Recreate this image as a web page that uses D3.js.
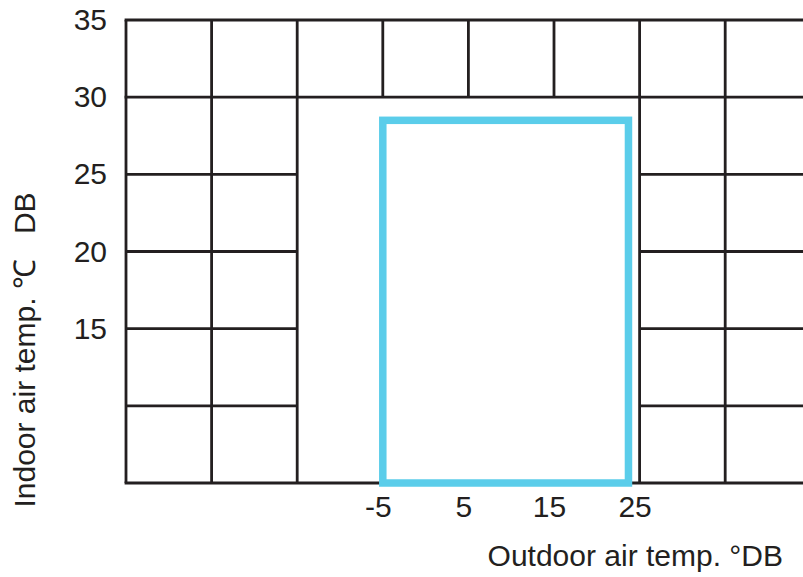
<!DOCTYPE html>
<html>
<head>
<meta charset="utf-8">
<script src="https://cdn.jsdelivr.net/npm/d3@7"></script>
<style>
  body { margin: 0; background: #fff; }
  svg { display: block; }
  text { font-family: "Liberation Sans", Arial, Helvetica, sans-serif; fill: #231f20; white-space: pre; }
</style>
</head>
<body>
<svg id="chart" width="803" height="577"></svg>
<script>
// tick labels shown on the axes
const xTickValues = [-5, 5, 15, 25];
const yTickValues = [15, 20, 25, 30, 35];

// grid: vertical lines that run full height, and those only in the top band
const xFullLines = [-35, -25, -15, 25, 35];
const xTopLines = [-5, 5, 15];
// horizontal lines that run full width, and those only at the sides
const yFullLines = [35, 30, 5];
const ySideLines = [25, 20, 15, 10];

// operating range (outdoor x indoor, degC)
const outdoorRange = [-5, 23.7];
const indoorRange = [5, 28.5];

const xTitle = 'Outdoor air temp. °DB';
const yTitle = 'Indoor air temp. ℃   DB';

const svg = d3.select('#chart');
const ink = '#231f20';
const fontSize = 30;

const x = d3.scaleLinear().domain([-35, 45]).range([126, 810.8]);
const y = d3.scaleLinear().domain([5, 35]).range([483, 20]);

const grid = svg.append('g').attr('class', 'grid')
  .attr('stroke', ink).attr('stroke-width', 2.8).attr('fill', 'none');

// full-height verticals
grid.selectAll('.vfull').data(xFullLines).enter().append('line')
  .attr('class', 'vfull')
  .attr('x1', d => x(d)).attr('x2', d => x(d))
  .attr('y1', y(35)).attr('y2', y(5));

// top band verticals
grid.selectAll('.vtop').data(xTopLines).enter().append('line')
  .attr('class', 'vtop')
  .attr('x1', d => x(d)).attr('x2', d => x(d))
  .attr('y1', y(35)).attr('y2', y(30));

// full-width horizontals
grid.selectAll('.hfull').data(yFullLines).enter().append('line')
  .attr('class', 'hfull')
  .attr('x1', x(-35) - 1.4).attr('x2', x(45))
  .attr('y1', d => y(d)).attr('y2', d => y(d));

// side horizontals, left and right of the open area
const sides = [[-35, -15], [25, 45]];
sides.forEach((s, i) => {
  grid.selectAll('.hside' + i).data(ySideLines).enter().append('line')
    .attr('class', 'hside' + i)
    .attr('x1', x(s[0])).attr('x2', x(s[1]))
    .attr('y1', d => y(d)).attr('y2', d => y(d));
});

// operating range box
svg.append('rect')
  .attr('x', x(outdoorRange[0]))
  .attr('y', y(indoorRange[1]))
  .attr('width', x(outdoorRange[1]) - x(outdoorRange[0]))
  .attr('height', y(indoorRange[0]) - y(indoorRange[1]))
  .attr('fill', 'none')
  .attr('stroke', '#5bcdea')
  .attr('stroke-width', 7.5);

// axes (labels only)
const xAxis = svg.append('g')
  .attr('transform', `translate(0,${y(5)})`)
  .call(d3.axisBottom(x).tickValues(xTickValues).tickFormat(d => String(d))
    .tickSize(0).tickPadding(12.5));
const yAxis = svg.append('g')
  .attr('transform', `translate(${x(-35)},0)`)
  .call(d3.axisLeft(y).tickValues(yTickValues).tickFormat(d => String(d))
    .tickSize(0).tickPadding(19));

[xAxis, yAxis].forEach(a => {
  a.select('.domain').remove();
  a.selectAll('text')
    .attr('font-family', '"Liberation Sans", Arial, Helvetica, sans-serif')
    .attr('font-size', fontSize)
    .attr('fill', ink);
});
xAxis.selectAll('text').attr('dx', -5);

// axis titles
svg.append('text')
  .attr('x', 783).attr('y', 566)
  .attr('text-anchor', 'end')
  .attr('font-size', fontSize)
  .text(xTitle);

svg.append('text')
  .attr('transform', 'translate(35,350) rotate(-90)')
  .attr('text-anchor', 'middle')
  .attr('font-size', fontSize)
  .text(yTitle);
</script>
</body>
</html>
